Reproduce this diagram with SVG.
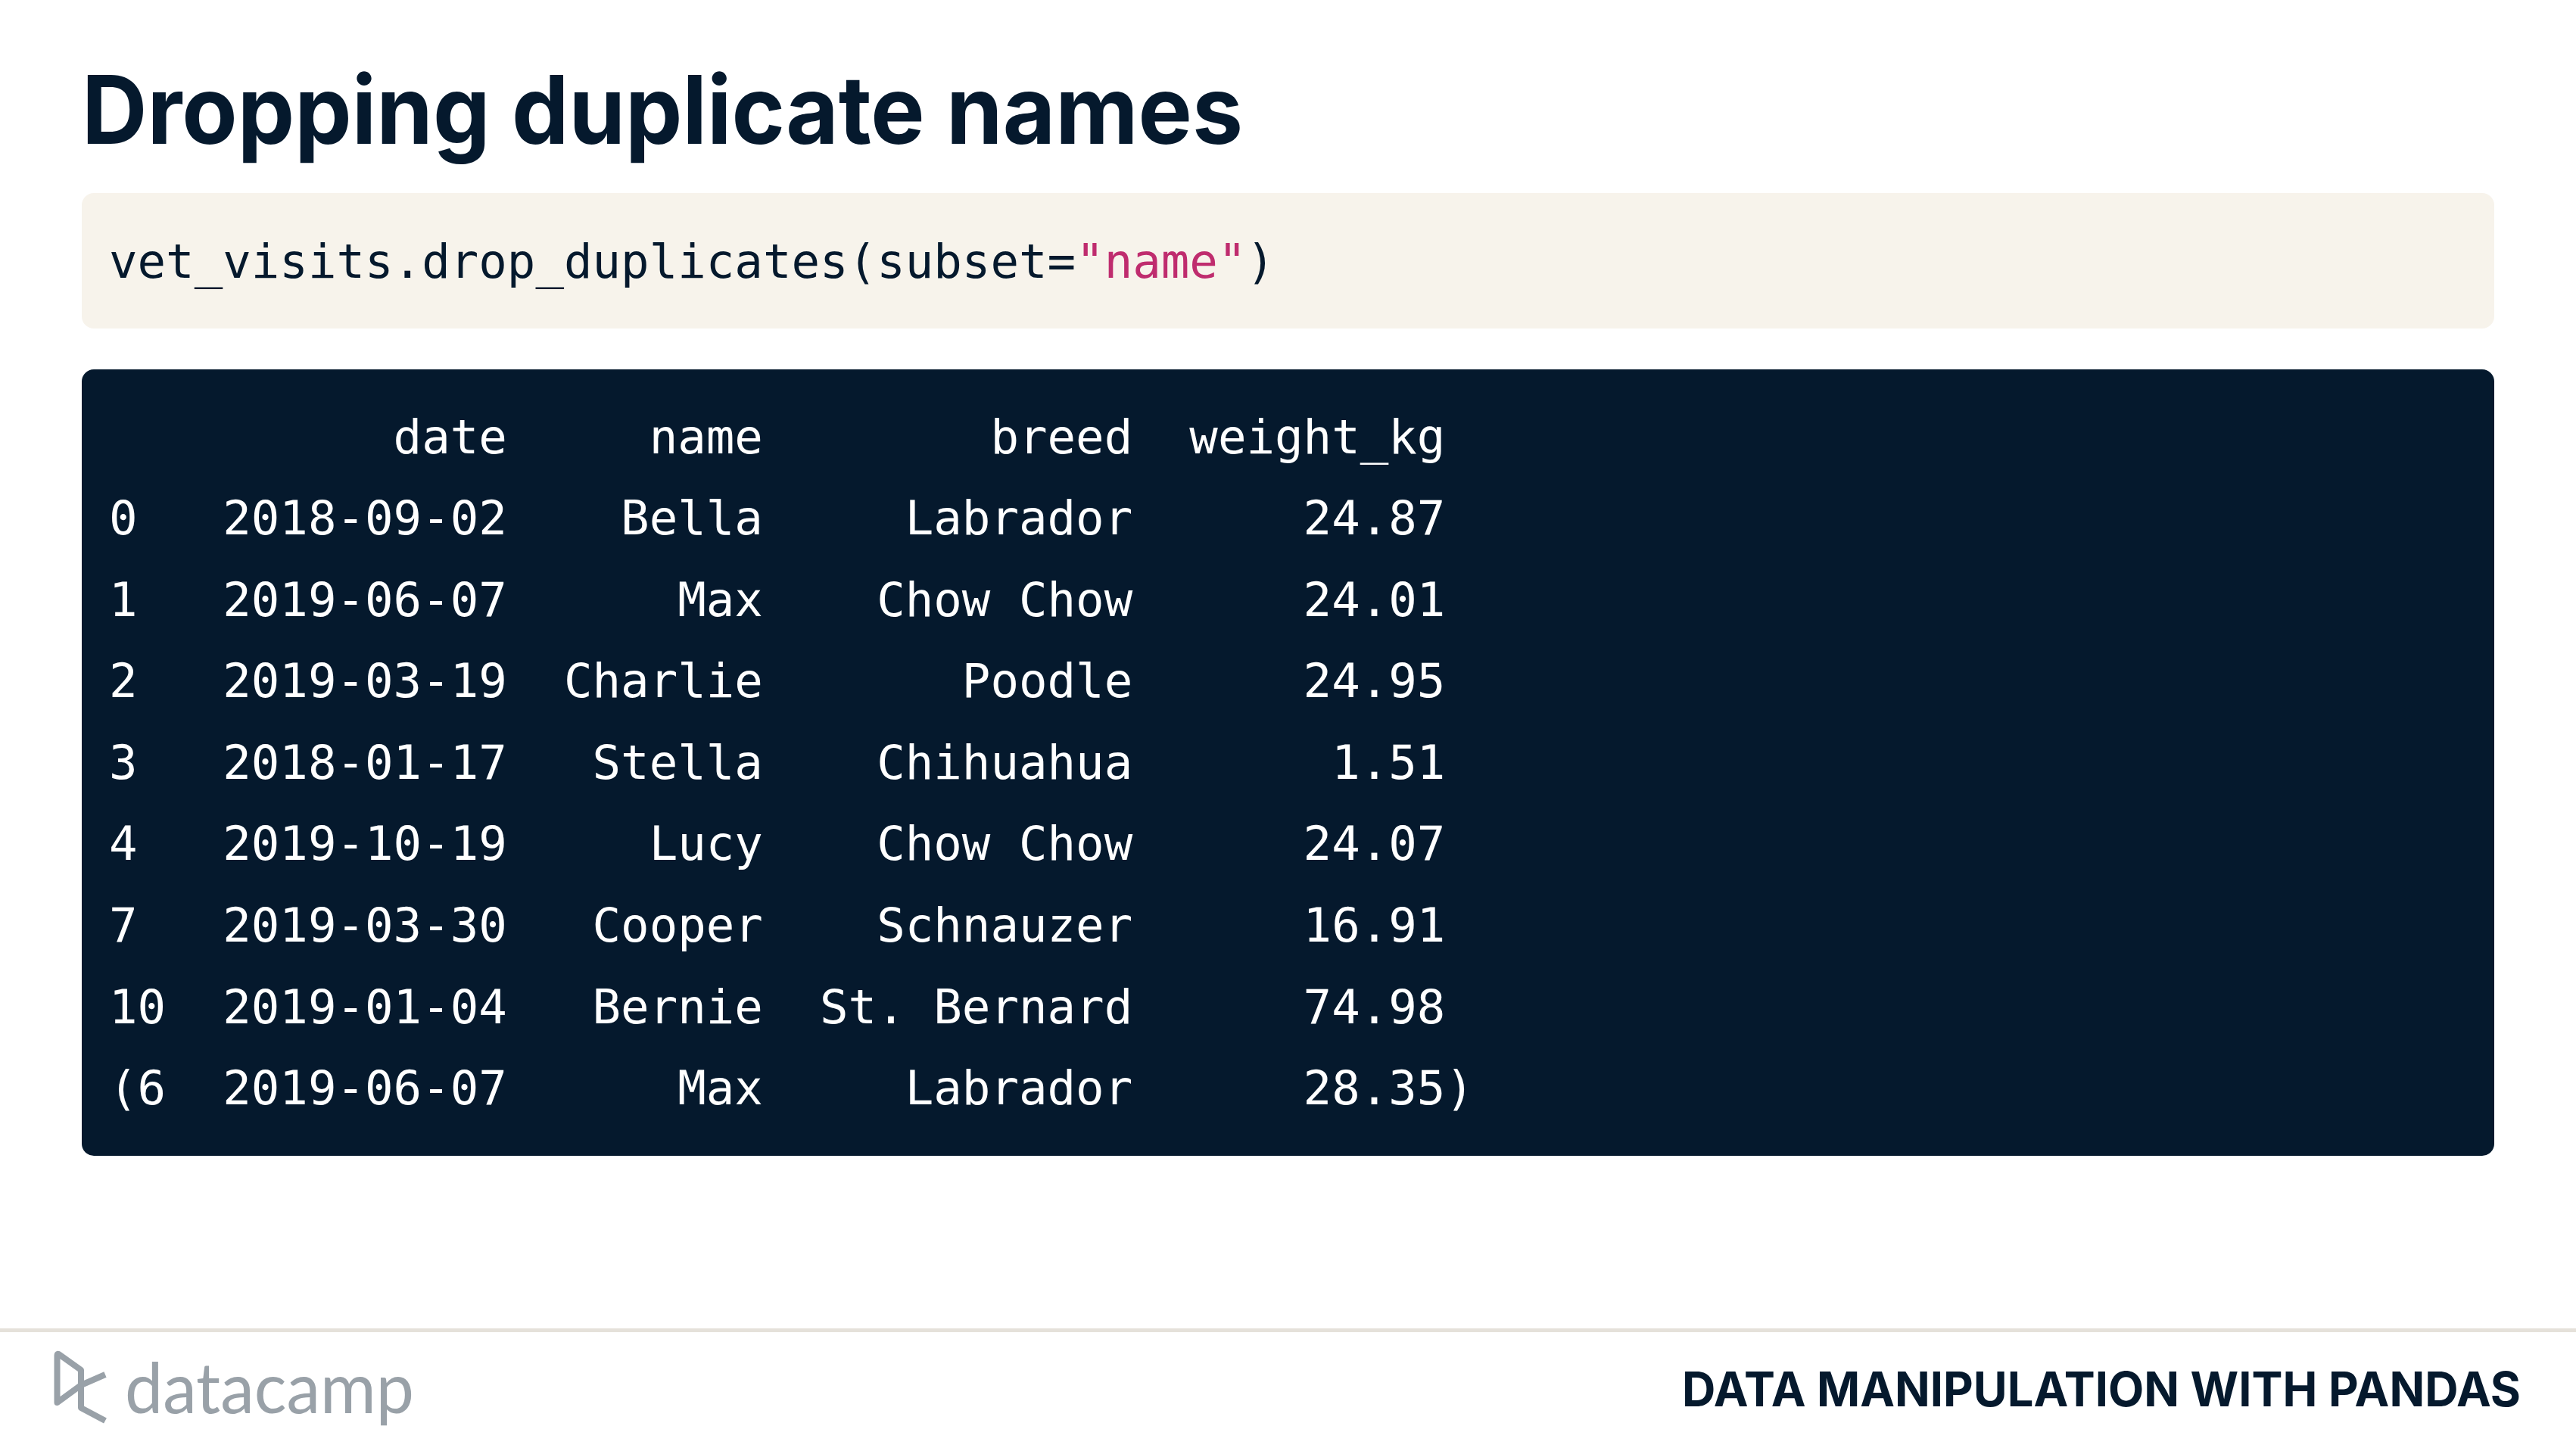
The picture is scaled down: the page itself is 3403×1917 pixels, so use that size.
<svg xmlns="http://www.w3.org/2000/svg" width="3403" height="1917" viewBox="0 0 3403 1917">
<style>
.mono{font-family:"DejaVu Sans Mono","Liberation Mono",monospace;font-size:62.4px;white-space:pre}
.ink{fill:#05192d}
.row{fill:#ffffff}
.str{fill:#bf2c6e}
.head{font-family:Inter,"Liberation Sans",sans-serif;fill:#05192d}
</style>
<rect width="3403" height="1917" fill="#ffffff"/>
<g id="title"><text class="head" x="108" y="190" font-size="125" font-weight="700" textLength="1534" lengthAdjust="spacingAndGlyphs">Dropping duplicate names</text></g>
<g id="code">
<rect x="108" y="255" width="3187" height="179" rx="16" fill="#f7f3eb"/>
<text class="mono ink" x="144" y="367" xml:space="preserve">vet_visits.drop_duplicates(subset=<tspan class="str">"name"</tspan>)</text>
</g>
<g id="output">
<rect x="108" y="488" width="3187" height="1039" rx="16" fill="#05192d"/>
<text class="mono row" x="144" y="599" xml:space="preserve">          date     name        breed  weight_kg</text>
<text class="mono row" x="144" y="706" xml:space="preserve">0   2018-09-02    Bella     Labrador      24.87</text>
<text class="mono row" x="144" y="814" xml:space="preserve">1   2019-06-07      Max    Chow Chow      24.01</text>
<text class="mono row" x="144" y="921" xml:space="preserve">2   2019-03-19  Charlie       Poodle      24.95</text>
<text class="mono row" x="144" y="1029" xml:space="preserve">3   2018-01-17   Stella    Chihuahua       1.51</text>
<text class="mono row" x="144" y="1136" xml:space="preserve">4   2019-10-19     Lucy    Chow Chow      24.07</text>
<text class="mono row" x="144" y="1244" xml:space="preserve">7   2019-03-30   Cooper    Schnauzer      16.91</text>
<text class="mono row" x="144" y="1352" xml:space="preserve">10  2019-01-04   Bernie  St. Bernard      74.98</text>
<text class="mono row" x="144" y="1459" xml:space="preserve">(6  2019-06-07      Max     Labrador      28.35)</text>
</g>
<g id="footer">
<rect x="0" y="1755" width="3403" height="5" fill="#e5e1da"/>
<path d="M75.500 1791L75.500 1853L107 1830M75.500 1791Q75.500 1787 79 1790L107 1810L107 1860L139 1877M107 1830L139 1816" fill="none" stroke="#99a1a8" stroke-width="8" stroke-linejoin="round"/>
<text x="165" y="1867" font-family="Lato,'Open Sans',sans-serif" font-size="94" fill="#99a1a8" textLength="382" lengthAdjust="spacingAndGlyphs">datacamp</text>
<text class="head" x="2222" y="1858" font-size="63" font-weight="700" textLength="1108" lengthAdjust="spacingAndGlyphs">DATA MANIPULATION WITH PANDAS</text>
</g>
</svg>
